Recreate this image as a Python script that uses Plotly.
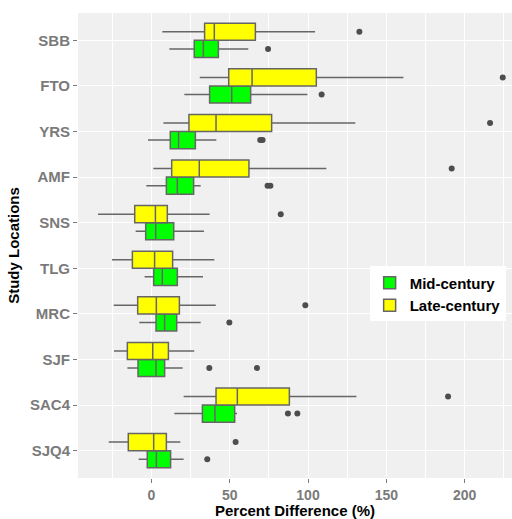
import plotly.graph_objects as go

# Study locations, listed from bottom to top of the chart
locations = ["SJQ4", "SAC4", "SJF", "MRC", "TLG", "SNS", "AMF", "YRS", "FTO", "SBB"]

# Mid-century percent difference summaries (%)
mid_lower = [-8.1, 14.7, -15.3, -7.7, -4.3, -10.0, -3.2, -2.1, 21.1, 11.5]
mid_q1 = [-2.6, 32.6, -8.5, 3.0, 1.5, -3.6, 9.6, 12.1, 37.2, 27.4]
mid_median = [3.2, 40.6, 3.0, 8.5, 7.0, 2.8, 16.6, 17.4, 51.3, 33.2]
mid_q3 = [12.3, 53.2, 8.5, 16.2, 16.6, 14.3, 27.0, 28.1, 63.4, 42.8]
mid_upper = [20.6, 54.7, 20.0, 31.5, 33.0, 33.6, 31.5, 41.5, 99.6, 61.9]
mid_outliers = [[35.7], [87.2, 93.2], [37.0, 67.4], [49.8], [], [], [74.2, 76.0], [69.5, 71.0], [108.7], [74.5]]

# Late-century percent difference summaries (%)
late_lower = [-27.2, 20.6, -23.8, -24.0, -25.1, -34.0, 1.3, 7.7, 30.9, 7.0]
late_q1 = [-14.7, 41.3, -15.3, -8.7, -12.1, -10.6, 13.0, 24.0, 49.4, 34.0]
late_median = [1.5, 54.9, 0.9, 3.2, 2.1, 2.6, 30.6, 41.3, 64.3, 40.2]
late_q3 = [9.6, 88.1, 10.9, 17.9, 13.6, 10.2, 62.3, 76.8, 105.3, 66.4]
late_upper = [18.5, 130.9, 27.4, 41.1, 40.2, 37.2, 111.7, 130.2, 160.9, 104.5]
late_outliers = [[53.8], [189.4], [], [98.3], [], [82.6], [191.7], [216.2], [224.3], [132.8]]

x_ticks = [0, 50, 100, 150, 200]

BOX_W = 0.375
positions = list(range(1, len(locations) + 1))

series = [
    ("Mid-century", "#00FF00", -BOX_W / 2, mid_lower, mid_q1, mid_median, mid_q3, mid_upper, mid_outliers),
    ("Late-century", "#FFFF00", BOX_W / 2, late_lower, late_q1, late_median, late_q3, late_upper, late_outliers),
]

fig = go.Figure()
for name, color, offset, lo, q1, med, q3, hi, outs in series:
    ys = [p + offset for p in positions]
    fig.add_trace(go.Box(
        name=name,
        orientation="h",
        y=ys,
        q1=q1, median=med, q3=q3,
        lowerfence=lo, upperfence=hi,
        width=BOX_W,
        whiskerwidth=0,
        fillcolor=color,
        line=dict(color="#666666", width=1.5),
        boxpoints=False,
        legendgroup=name,
    ))
    ox, oy = [], []
    for y, vals in zip(ys, outs):
        for v in vals:
            ox.append(v)
            oy.append(y)
    fig.add_trace(go.Scatter(
        x=ox, y=oy, mode="markers",
        marker=dict(color="#4D4D4D", size=6),
        showlegend=False, legendgroup=name, hoverinfo="x",
    ))

FAMILY = "Liberation Sans, Arial, sans-serif"
y_tick_font = dict(family=FAMILY, size=15, color="#7A7A7A", weight="bold")
x_tick_font = dict(family=FAMILY, size=14, color="#7A7A7A", weight="bold")
title_font = dict(family=FAMILY, size=15, color="black", weight="bold")

fig.update_layout(
    width=512, height=519,
    margin=dict(l=78, r=0, t=13, b=41),
    paper_bgcolor="white",
    plot_bgcolor="#F0F0F0",
    boxmode="overlay",
    showlegend=True,
    legend=dict(
        x=0.672, y=0.455, xanchor="left", yanchor="top",
        bgcolor="white",
        font=dict(family=FAMILY, size=15, color="black", weight="bold"),
        traceorder="normal",
        itemwidth=30,
        tracegroupgap=0,
    ),
    xaxis=dict(
        range=[-46.8, 230.2],
        tickvals=x_ticks,
        ticktext=[str(t) for t in x_ticks],
        tickfont=x_tick_font,
        ticks="outside", ticklen=4, tickcolor="#7A7A7A", tickwidth=1,
        showgrid=True, gridcolor="white", gridwidth=1.4,
        minor=dict(tickvals=[-25, 25, 75, 125, 175, 225], showgrid=True, gridcolor="white", gridwidth=0.7, ticks=""),
        zeroline=False, showline=False,
        title=dict(text="Percent Difference (%)", font=title_font, standoff=5),
    ),
    yaxis=dict(
        range=[0.4, len(locations) + 0.6],
        tickvals=positions,
        ticktext=locations,
        tickfont=y_tick_font,
        ticks="outside", ticklen=4, tickcolor="#7A7A7A", tickwidth=1,
        showgrid=True, gridcolor="white", gridwidth=1.4,
        zeroline=False, showline=False,
        title=dict(text="Study Locations", font=title_font, standoff=6),
    ),
)

fig.write_html("out.html")
